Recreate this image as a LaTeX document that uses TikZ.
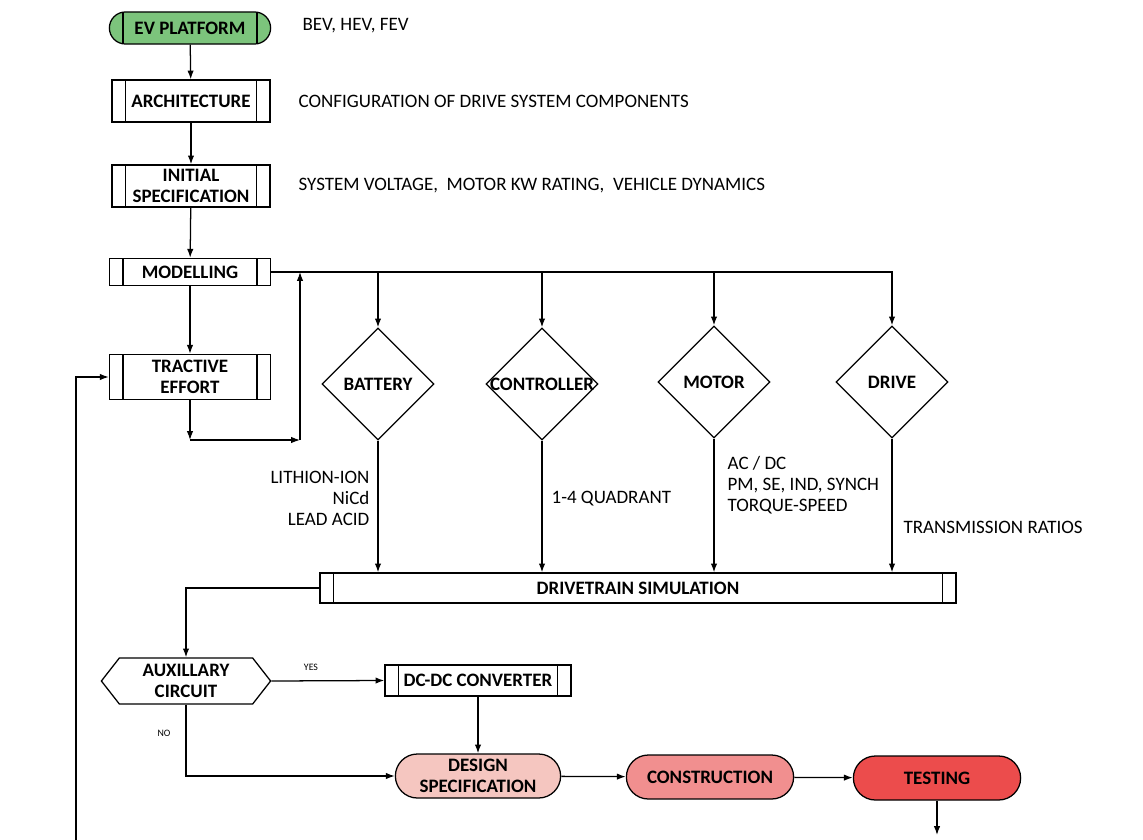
\documentclass[tikz,border=0pt]{standalone}
\usepackage{fontspec}
\setmainfont{Carlito}
\usepackage{xcolor}
\usetikzlibrary{positioning,shapes,arrows.meta}
\definecolor{evgreen}{RGB}{124,196,124}
\definecolor{pinklight}{RGB}{245,198,192}
\definecolor{pinkmid}{RGB}{241,143,143}
\definecolor{redtest}{RGB}{236,76,76}
\newcommand{\dtext}[1]{\makebox[0pt]{#1}}

\begin{document}
\begin{tikzpicture}[x=0.025cm,y=-0.025cm,
  line width=0.9pt,
  every node/.style={font=\fontsize{13.5}{15}\selectfont},
  arr/.style={-{Latex[length=2.2mm,width=1.6mm]}},
  bars/.style={path picture={
    \draw ([xshift=0.34cm]path picture bounding box.north west) -- ([xshift=0.34cm]path picture bounding box.south west);
    \draw ([xshift=-0.34cm]path picture bounding box.north east) -- ([xshift=-0.34cm]path picture bounding box.south east);}},
  procbox/.style={draw, rectangle, bars, align=center, inner sep=1pt, font=\fontsize{13.5}{15}\selectfont\bfseries},
  termbox/.style={draw, rectangle, align=center, inner sep=1pt, minimum width=4.15cm, minimum height=1.1cm, rounded corners=0.55cm, font=\fontsize{13.5}{15}\selectfont\bfseries},
  choice/.style={draw, diamond, inner sep=0pt, minimum width=2.8cm, minimum height=2.8cm, font=\fontsize{13.5}{15}\selectfont\bfseries},
  note/.style={anchor=west, inner sep=0pt},
  tiny/.style={inner sep=0pt, font=\fontsize{7}{8}\selectfont}]
\useasboundingbox (0,0) rectangle (1143,840);

\node [draw, rectangle, rounded corners=0.4cm, fill=evgreen, bars, minimum width=4.03cm, minimum height=0.8cm, inner sep=1pt, font=\fontsize{13.5}{15}\selectfont\bfseries] (ev) at (190,28) {EV PLATFORM};
\node [procbox, minimum width=3.95cm, minimum height=1.05cm] (arch) at (191,101) {ARCHITECTURE};
\node [procbox, minimum width=3.95cm, minimum height=1.05cm] (init) at (191,186) {INITIAL\\SPECIFICATION};
\node [procbox, minimum width=4.03cm, minimum height=0.68cm] (model) at (190,272) {MODELLING};
\node [procbox, minimum width=4.03cm, minimum height=1.13cm] (tract) at (190,377) {TRACTIVE\\EFFORT};

\node [note] (evn) at (302,26) {BEV, HEV, FEV};
\node [note] (archn) at (298,101) {CONFIGURATION OF DRIVE SYSTEM COMPONENTS};
\node [note] (initn) at (298,186) {SYSTEM VOLTAGE,\ \ MOTOR KW RATING,\ \ VEHICLE DYNAMICS};

\node [choice] (batt) at (378,384) {\dtext{BATTERY}};
\node [choice] (ctrl) at (542,384) {\dtext{CONTROLLER}};
\node [choice] (motor) at (714,382) {\dtext{MOTOR}};
\node [choice] (drive) at (892,382) {\dtext{DRIVE}};

\node [anchor=east, align=right, inner sep=0pt] (battn) at (370,498) {LITHION-ION\\NiCd\\LEAD ACID};
\node [note] (ctrln) at (551,499) {1-4 QUADRANT};
\node [anchor=west, align=left, inner sep=0pt] (motorn) at (727,485) {AC / DC\\PM, SE, IND, SYNCH\\TORQUE-SPEED};
\node [note] (driven) at (903,527) {TRANSMISSION RATIOS};

\node [procbox, minimum width=15.9cm, minimum height=0.75cm] (sim) at (638,588) {DRIVETRAIN SIMULATION};

\node [draw, signal, signal to=west and east, signal pointer angle=104, minimum width=4.23cm, minimum height=1.15cm, inner sep=1pt, align=center, font=\fontsize{13.5}{15}\selectfont\bfseries] (aux) at (186,681) {AUXILLARY\\CIRCUIT};
\node [procbox, minimum width=4.65cm, minimum height=0.78cm] (dcdc) at (478,680.5) {DC-DC CONVERTER};
\node [tiny] (yes) at (311,667) {YES};
\node [tiny] (no) at (164,733) {NO};

\node [termbox, fill=pinklight, minimum width=4.13cm] (design) at (478,776) {DESIGN\\SPECIFICATION};
\node [termbox, fill=pinkmid, minimum width=4.18cm] (constr) at (710,777) {CONSTRUCTION};
\node [termbox, fill=redtest, minimum width=4.18cm] (test) at (937,778) {TESTING};

\coordinate (tl) at (190,440);
\coordinate (tr) at (300,440);
\coordinate (tend) at (937,835);
\coordinate (fb) at (76,840);

\draw [arr] (ev) -- (arch);
\draw [arr] (arch) -- (init);
\draw [arr] (init) -- (model);
\draw [arr] (model) -- (tract);
\draw [arr] (tract.south) -- (tl);
\draw [arr] (tl) -- (tr);
\draw [arr] (tr) -- (tr |- model.east);
\draw [arr] (model.east) -| (drive.north);
\draw [arr] (batt.north |- model.east) -- (batt.north);
\draw [arr] (ctrl.north |- model.east) -- (ctrl.north);
\draw [arr] (motor.north |- model.east) -- (motor.north);
\draw [arr] (batt.south) -- (batt.south |- sim.north);
\draw [arr] (ctrl.south) -- (ctrl.south |- sim.north);
\draw [arr] (motor.south) -- (motor.south |- sim.north);
\draw [arr] (drive.south) -- (drive.south |- sim.north);
\draw [arr] (sim.west) -| (aux.north);
\draw [arr] (aux.east) -- (dcdc.west);
\draw [arr] (aux.south) |- (design.west);
\draw [arr] (dcdc) -- (design);
\draw [arr] (design) -- (constr);
\draw [arr] (constr) -- (test);
\draw [arr] (test.south) -- (tend);
\draw [arr] (fb) |- (tract.west);
\end{tikzpicture}
\end{document}
